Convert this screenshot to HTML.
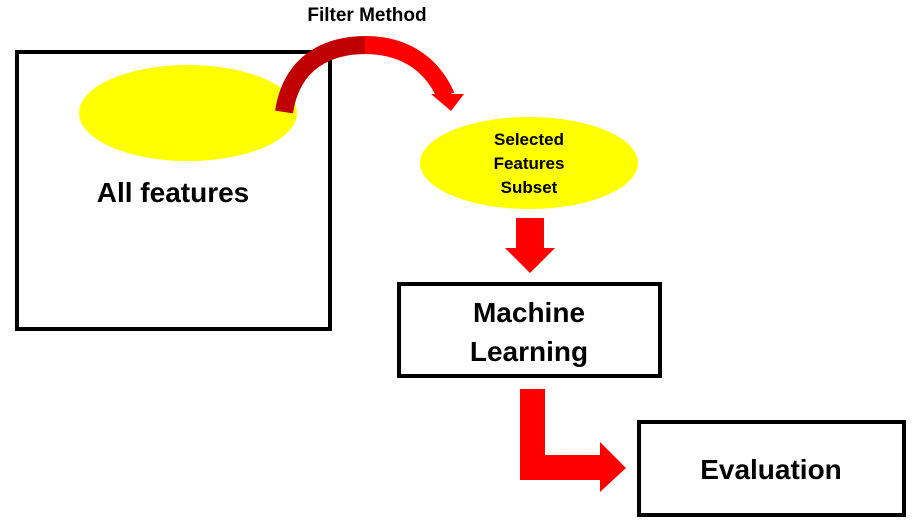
<!DOCTYPE html>
<html><head><style>
body{margin:0;background:#fff;width:924px;height:525px;overflow:hidden;font-family:"Liberation Sans","Noto Sans CJK KR",sans-serif}
</style></head><body>
<svg width="924" height="525" xmlns="http://www.w3.org/2000/svg" style="font-family:'Liberation Sans','Noto Sans CJK KR',sans-serif;font-weight:bold">
<rect x="17" y="52" width="313" height="277" fill="none" stroke="#000" stroke-width="4"/>
<ellipse cx="188" cy="113" rx="109" ry="48" fill="#ffff00"/>
<text x="173" y="202" font-size="28" text-anchor="middle">All features</text>
<text x="367" y="21" font-size="19" text-anchor="middle">Filter Method</text>
<path d="M284,112 C292,60 330,45 366,45" fill="none" stroke="#c00000" stroke-width="18"/>
<path d="M365,45 C400,45 430,60 446,96" fill="none" stroke="#ff0000" stroke-width="18"/>
<polygon points="431,94 464,94 451,111" fill="#ff0000"/>
<ellipse cx="529" cy="163" rx="109" ry="46" fill="#ffff00"/>
<text x="529" y="145" font-size="17" text-anchor="middle">Selected</text>
<text x="529" y="169" font-size="17" text-anchor="middle">Features</text>
<text x="529" y="193" font-size="17" text-anchor="middle">Subset</text>
<polygon points="516,218 544,218 544,248 555,248 530,273 505,248 516,248" fill="#ff0000"/>
<rect x="399" y="284" width="261" height="92" fill="none" stroke="#000" stroke-width="4"/>
<text x="529" y="322" font-size="28" text-anchor="middle">Machine</text>
<text x="529" y="361" font-size="28" text-anchor="middle">Learning</text>
<polygon points="520,389 545,389 545,455 600,455 600,442 626,468 600,492 600,480 520,480" fill="#ff0000"/>
<rect x="639" y="422" width="265" height="93" fill="none" stroke="#000" stroke-width="4"/>
<text x="771" y="479" font-size="28" text-anchor="middle">Evaluation</text>
</svg>
</body></html>
